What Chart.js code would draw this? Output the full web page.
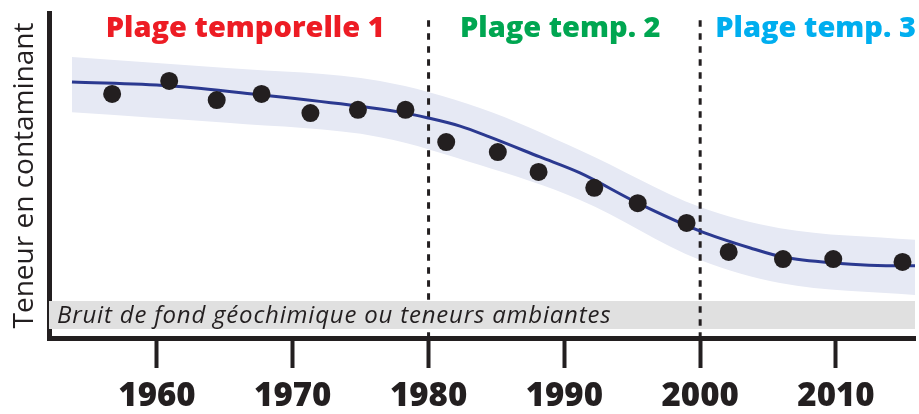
<!DOCTYPE html>
<html>
<head>
<meta charset="utf-8">
<script src="https://cdn.jsdelivr.net/npm/chart.js@4.4.1/dist/chart.umd.min.js"></script>
<style>
  html, body { margin: 0; padding: 0; background: #fff; }
  canvas { display: block; }
</style>
</head>
<body>
<canvas id="chart" width="919" height="414"></canvas>
<script>
// axis range (years) and ticks
const xMin = 1952.05;
const xMax = 2015.82;
const tickYears = [1960, 1970, 1980, 1990, 2000, 2010];

// measured samples
const sampleYears = [1956.7, 1960.9, 1964.4, 1967.7, 1971.3, 1974.8, 1978.3, 1981.3, 1985.1, 1988.1, 1992.2, 1995.4, 1999.0, 2002.1, 2006.1, 2009.8, 2014.9];
const sampleValues = [75.1, 79.1, 73.2, 75.1, 69.2, 70.2, 70.2, 60.3, 57.2, 51.1, 46.2, 41.5, 35.4, 26.5, 24.3, 24.3, 23.4];

// fitted trend
const trendYears = [1953.74, 1960.88, 1967.66, 1974.8, 1977.89, 1979.96, 1982.32, 1984.53, 1988.2, 1991.15, 1995.42, 2000.0, 2003.7, 2006.1, 2009.8, 2014.9, 2015.82];
const trendValues = [78.8, 77.6, 74.8, 71.4, 69.5, 67.7, 65.2, 61.8, 55.7, 50.8, 41.5, 32.9, 27.7, 24.9, 23.1, 22.2, 22.2];

// uncertainty envelope
const bandYears = [1953.74, 1965.15, 1976.42, 1983.78, 1991.15, 2000.0, 2005.88, 2015.82];
const bandHigh = [86.5, 83.1, 79.1, 70.8, 57.8, 40.3, 33.8, 30.2];
const bandLow = [69.5, 66.2, 61.8, 53.2, 42.5, 24.0, 16.9, 13.2];

// background level strip
const backgroundHigh = 11.4;
const backgroundLow = 2.8;
const backgroundLabel = "Bruit de fond géochimique ou teneurs ambiantes";

// period boundaries and titles
const boundaryYears = [1980, 2000];
const boundaryTop = 97.8;
const periodNames = ["Plage temporelle 1", "Plage temp. 2", "Plage temp. 3"];
const periodCenters = [1966.5, 1989.7, 2008.5];
const periodColors = ["#ed1c24", "#00a651", "#00aeef"];

const ink = "#231f20";
const pts = (xs, ys) => xs.map((x, i) => ({ x: x, y: ys[i] }));

const annotations = {
  id: "annotations",
  afterDatasetsDraw(chart) {
    const { ctx, scales } = chart;
    ctx.save();
    // strip label
    ctx.font = "italic 24px 'Open Sans'";
    ctx.letterSpacing = "0.8px";
    ctx.fillStyle = ink;
    ctx.textAlign = "left";
    ctx.textBaseline = "alphabetic";
    ctx.fillText(backgroundLabel, scales.x.left + 8, 323);
    ctx.letterSpacing = "0px";
    // period titles
    ctx.font = "800 29px 'Open Sans'";
    ctx.textAlign = "center";
    periodNames.forEach((name, i) => {
      ctx.fillStyle = periodColors[i];
      ctx.fillText(name, scales.x.getPixelForValue(periodCenters[i]), 37);
    });
    ctx.restore();
  }
};

new Chart(document.getElementById("chart"), {
  type: "line",
  data: {
    datasets: [
      {
        label: "mesures",
        type: "scatter",
        data: pts(sampleYears, sampleValues),
        backgroundColor: ink,
        borderWidth: 0,
        pointRadius: 9,
        order: 0
      },
      {
        label: "tendance",
        data: pts(trendYears, trendValues),
        borderColor: "#2b3990",
        borderWidth: 3,
        pointRadius: 0,
        cubicInterpolationMode: "monotone",
        order: 1
      },
      {
        label: "limite 2000",
        data: [{ x: boundaryYears[1], y: boundaryTop }, { x: boundaryYears[1], y: 0 }],
        borderColor: ink,
        borderWidth: 3,
        borderDash: [6.5, 6.5],
        pointRadius: 0,
        order: 2
      },
      {
        label: "bruit de fond",
        data: [{ x: xMin, y: backgroundHigh }, { x: xMax, y: backgroundHigh }],
        borderWidth: 0,
        pointRadius: 0,
        backgroundColor: "#e0e0e0",
        fill: { value: backgroundLow },
        order: 3
      },
      {
        label: "limite 1980",
        data: [{ x: boundaryYears[0], y: boundaryTop }, { x: boundaryYears[0], y: 0 }],
        borderColor: ink,
        borderWidth: 3,
        borderDash: [6.5, 6.5],
        pointRadius: 0,
        order: 4
      },
      {
        label: "enveloppe haute",
        data: pts(bandYears, bandHigh),
        borderWidth: 0,
        pointRadius: 0,
        cubicInterpolationMode: "monotone",
        backgroundColor: "#e6e9f4",
        fill: "+1",
        order: 5
      },
      {
        label: "enveloppe basse",
        data: pts(bandYears, bandLow),
        borderWidth: 0,
        pointRadius: 0,
        cubicInterpolationMode: "monotone",
        order: 6
      }
    ]
  },
  options: {
    responsive: false,
    animation: false,
    layout: { autoPadding: false, padding: { top: 13, right: 4, left: 0, bottom: 0 } },
    plugins: { legend: { display: false }, tooltip: { enabled: false } },
    scales: {
      x: {
        type: "linear",
        min: xMin,
        max: xMax,
        afterBuildTicks: (scale) => { scale.ticks = tickYears.map((v) => ({ value: v })); },
        afterFit: (scale) => {
          scale.height = 76;
          scale.paddingRight = 0;
        },
        grid: { drawOnChartArea: false, tickLength: 30, tickWidth: 4, tickColor: ink },
        border: { color: ink, width: 5 },
        ticks: {
          color: ink,
          padding: 9,
          font: { family: "'Open Sans'", size: 33, weight: "800" },
          callback: (v) => String(v)
        }
      },
      y: {
        min: 0,
        max: 100,
        afterFit: (scale) => { scale.width = 49; },
        grid: { display: false },
        border: { color: ink, width: 5 },
        ticks: { display: false },
        title: {
          display: true,
          text: "Teneur en contaminant",
          color: ink,
          padding: { top: 8, bottom: 0 },
          font: { family: "'Open Sans'", size: 28 }
        }
      }
    }
  },
  plugins: [annotations]
});
</script>
</body>
</html>
